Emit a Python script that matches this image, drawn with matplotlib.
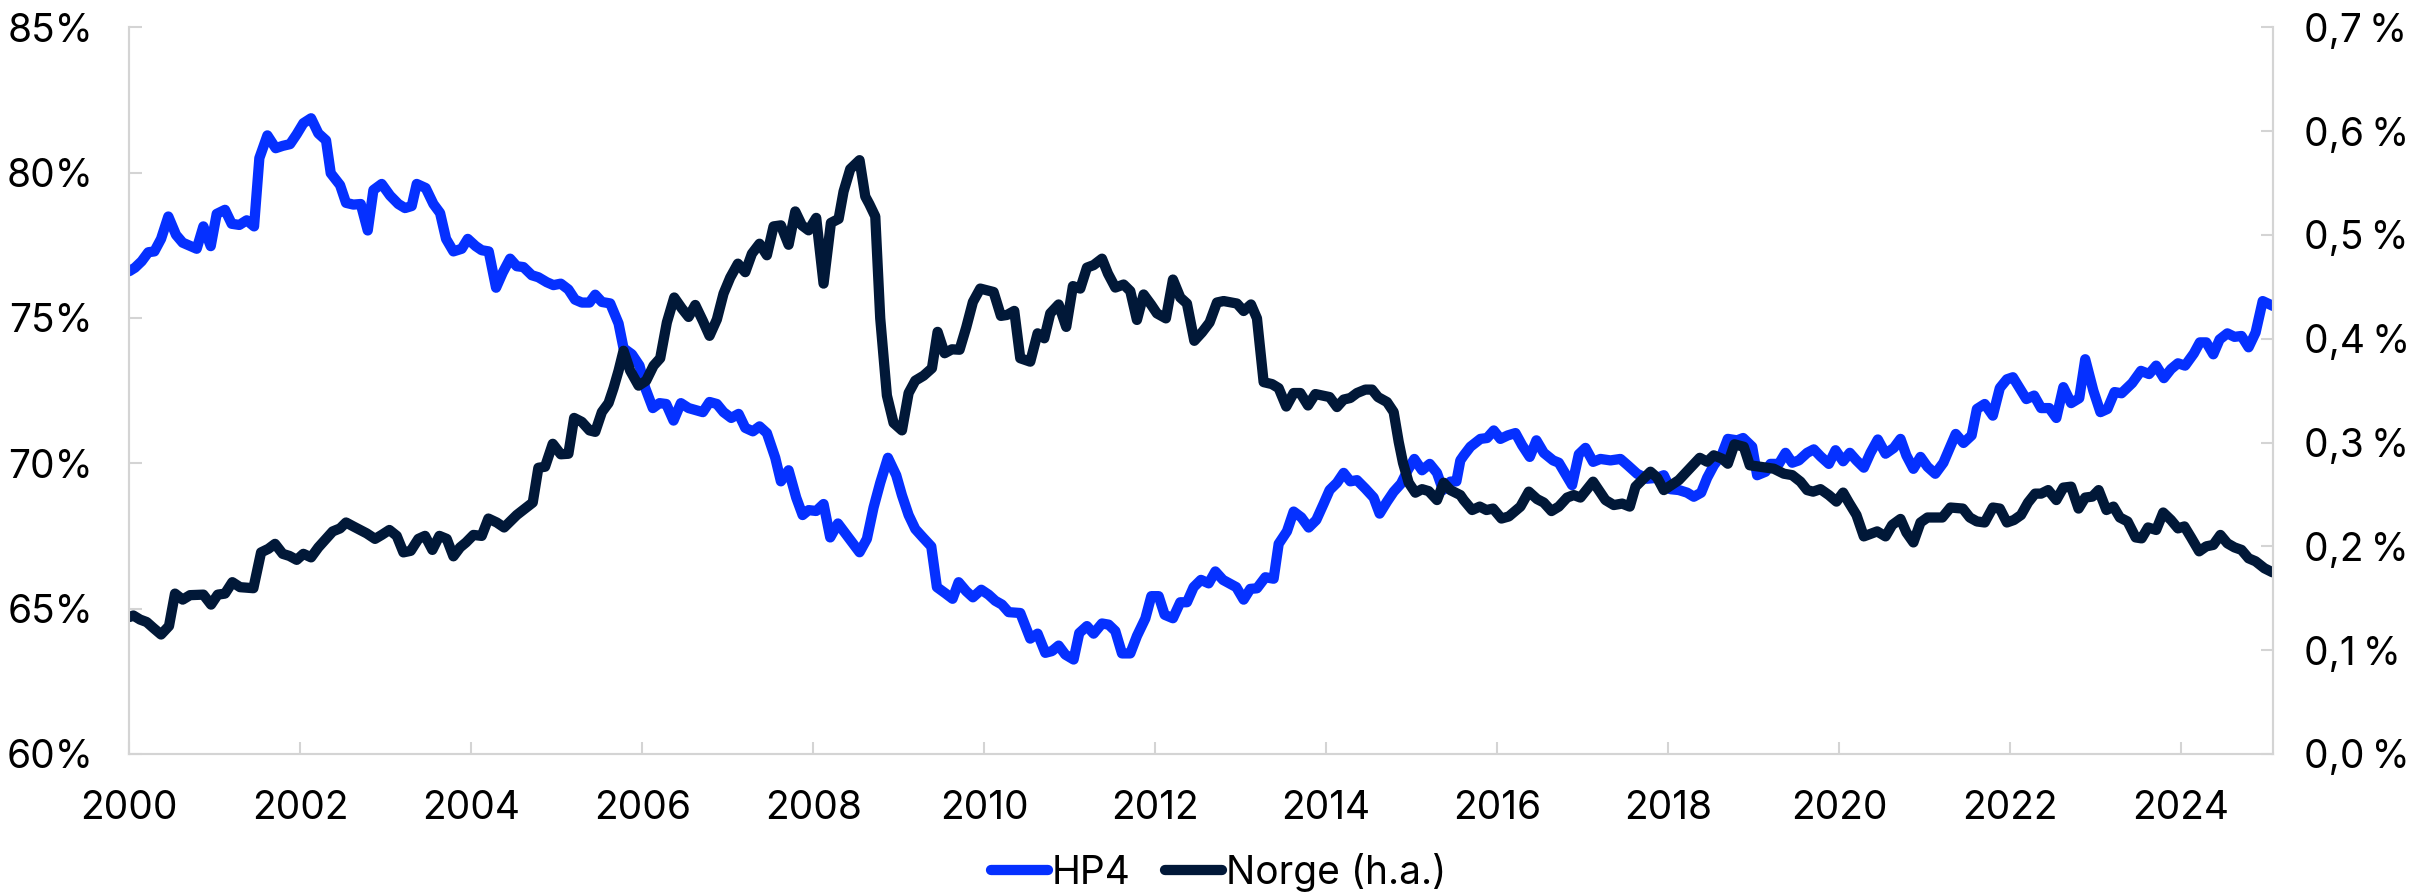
#!/usr/bin/env python3
"""HP4 share (left axis) vs Norge (right axis), 2000-2025."""

import matplotlib

matplotlib.use("Agg")
import matplotlib.pyplot as plt
from matplotlib.ticker import FuncFormatter

plt.rcParams["font.family"] = ["Inter", "DejaVu Sans"]

# HP4, percent (left axis). Dates as decimal years.
hp4_year = [
    2000.000, 2000.066, 2000.144, 2000.222, 2000.293, 2000.371, 2000.456, 2000.546, 2000.624, 2000.788,
    2000.866, 2000.952, 2001.022, 2001.119, 2001.197, 2001.287, 2001.373, 2001.459, 2001.521, 2001.615,
    2001.712, 2001.794, 2001.880, 2001.958, 2002.036, 2002.126, 2002.211, 2002.301, 2002.356, 2002.465,
    2002.535, 2002.621, 2002.707, 2002.789, 2002.855, 2002.952, 2003.050, 2003.147, 2003.225, 2003.303,
    2003.362, 2003.467, 2003.557, 2003.635, 2003.705, 2003.791, 2003.888, 2003.959, 2004.052, 2004.122,
    2004.204, 2004.290, 2004.368, 2004.454, 2004.532, 2004.610, 2004.708, 2004.785, 2004.883, 2004.961,
    2005.047, 2005.136, 2005.214, 2005.293, 2005.383, 2005.450, 2005.528, 2005.625, 2005.723, 2005.781,
    2005.879, 2005.968, 2006.035, 2006.124, 2006.202, 2006.280, 2006.366, 2006.452, 2006.542, 2006.709,
    2006.787, 2006.873, 2006.951, 2007.041, 2007.127, 2007.205, 2007.294, 2007.372, 2007.458, 2007.556,
    2007.622, 2007.712, 2007.801, 2007.876, 2007.946, 2008.035, 2008.121, 2008.199, 2008.289, 2008.542,
    2008.628, 2008.706, 2008.784, 2008.874, 2008.971, 2009.038, 2009.116, 2009.194, 2009.283, 2009.381,
    2009.447, 2009.545, 2009.630, 2009.701, 2009.790, 2009.868, 2009.966, 2010.052, 2010.130, 2010.208,
    2010.286, 2010.422, 2010.539, 2010.625, 2010.715, 2010.793, 2010.871, 2010.949, 2011.046, 2011.112,
    2011.202, 2011.280, 2011.378, 2011.456, 2011.534, 2011.612, 2011.709, 2011.787, 2011.885, 2011.955,
    2012.041, 2012.111, 2012.208, 2012.294, 2012.372, 2012.450, 2012.536, 2012.626, 2012.704, 2012.793,
    2012.949, 2013.035, 2013.113, 2013.191, 2013.289, 2013.386, 2013.445, 2013.542, 2013.620, 2013.710,
    2013.796, 2013.885, 2013.971, 2014.041, 2014.127, 2014.205, 2014.283, 2014.361, 2014.459, 2014.556,
    2014.626, 2014.712, 2014.790, 2014.876, 2014.954, 2015.032, 2015.122, 2015.212, 2015.297, 2015.367,
    2015.453, 2015.524, 2015.570, 2015.610, 2015.688, 2015.805, 2015.883, 2015.961, 2016.039, 2016.125,
    2016.215, 2016.293, 2016.382, 2016.460, 2016.546, 2016.655, 2016.722, 2016.877, 2016.956, 2017.034,
    2017.123, 2017.209, 2017.326, 2017.443, 2017.529, 2017.638, 2017.755, 2017.872, 2017.950, 2018.028,
    2018.126, 2018.223, 2018.301, 2018.387, 2018.457, 2018.535, 2018.633, 2018.699, 2018.808, 2018.878,
    2018.984, 2019.042, 2019.140, 2019.198, 2019.296, 2019.374, 2019.452, 2019.530, 2019.627, 2019.705,
    2019.783, 2019.881, 2019.959, 2020.048, 2020.126, 2020.204, 2020.290, 2020.368, 2020.454, 2020.544,
    2020.641, 2020.719, 2020.788, 2020.870, 2020.953, 2021.035, 2021.126, 2021.221, 2021.365, 2021.456,
    2021.551, 2021.613, 2021.704, 2021.799, 2021.881, 2021.964, 2022.034, 2022.191, 2022.282, 2022.364,
    2022.459, 2022.542, 2022.624, 2022.715, 2022.810, 2022.880, 2022.975, 2023.058, 2023.140, 2023.223,
    2023.305, 2023.429, 2023.532, 2023.627, 2023.710, 2023.800, 2023.883, 2023.965, 2024.048, 2024.151,
    2024.221, 2024.296, 2024.378, 2024.452, 2024.543, 2024.626, 2024.708, 2024.791, 2024.873, 2024.956,
    2025.080,
]
hp4_pct = [
    76.61, 76.73, 76.95, 77.26, 77.29, 77.72, 78.49, 77.86, 77.59, 77.38,
    78.15, 77.47, 78.58, 78.72, 78.24, 78.20, 78.36, 78.15, 80.50, 81.28,
    80.84, 80.92, 80.98, 81.32, 81.70, 81.87, 81.35, 81.11, 79.98, 79.57,
    78.96, 78.90, 78.92, 78.01, 79.40, 79.61, 79.21, 78.92, 78.78, 78.85,
    79.61, 79.47, 78.92, 78.61, 77.72, 77.29, 77.38, 77.72, 77.47, 77.33,
    77.29, 76.04, 76.56, 77.04, 76.78, 76.75, 76.47, 76.40, 76.23, 76.13,
    76.18, 75.98, 75.63, 75.53, 75.53, 75.80, 75.55, 75.50, 74.81, 73.96,
    73.75, 73.36, 72.59, 71.90, 72.07, 72.04, 71.47, 72.07, 71.90, 71.76,
    72.11, 72.04, 71.76, 71.56, 71.70, 71.22, 71.10, 71.27, 71.04, 70.19,
    69.38, 69.76, 68.82, 68.22, 68.39, 68.36, 68.60, 67.45, 67.93, 66.94,
    67.40, 68.48, 69.33, 70.19, 69.59, 68.90, 68.22, 67.74, 67.45, 67.14,
    65.74, 65.53, 65.34, 65.91, 65.60, 65.39, 65.65, 65.48, 65.27, 65.14,
    64.88, 64.85, 63.97, 64.14, 63.48, 63.54, 63.73, 63.42, 63.25, 64.16,
    64.40, 64.14, 64.49, 64.45, 64.23, 63.46, 63.46, 64.06, 64.66, 65.43,
    65.43, 64.79, 64.67, 65.22, 65.22, 65.74, 65.99, 65.87, 66.28, 65.99,
    65.74, 65.31, 65.68, 65.70, 66.08, 66.03, 67.23, 67.66, 68.34, 68.14,
    67.79, 68.05, 68.61, 69.08, 69.33, 69.67, 69.38, 69.42, 69.13, 68.82,
    68.27, 68.68, 69.02, 69.30, 69.76, 70.15, 69.76, 69.98, 69.67, 69.08,
    69.37, 69.38, 70.10, 70.27, 70.57, 70.84, 70.87, 71.13, 70.84, 70.96,
    71.04, 70.62, 70.22, 70.79, 70.36, 70.10, 70.02, 69.25, 70.31, 70.53,
    70.05, 70.15, 70.10, 70.15, 69.93, 69.64, 69.47, 69.50, 69.59, 69.11,
    69.08, 68.99, 68.85, 68.99, 69.50, 69.93, 70.33, 70.84, 70.79, 70.87,
    70.57, 69.59, 69.71, 69.98, 69.98, 70.36, 70.02, 70.10, 70.36, 70.48,
    70.24, 69.98, 70.45, 70.07, 70.36, 70.10, 69.85, 70.36, 70.82, 70.33,
    70.53, 70.84, 70.27, 69.81, 70.22, 69.88, 69.64, 70.02, 71.01, 70.70,
    70.96, 71.87, 72.04, 71.64, 72.59, 72.89, 72.96, 72.21, 72.33, 71.90,
    71.90, 71.56, 72.62, 72.07, 72.24, 73.58, 72.50, 71.76, 71.87, 72.45,
    72.41, 72.76, 73.18, 73.07, 73.36, 72.93, 73.24, 73.44, 73.36, 73.78,
    74.16, 74.16, 73.75, 74.26, 74.47, 74.35, 74.38, 73.99, 74.50, 75.58,
    75.41,
]

# Norge, percent (right axis, "h.a.")
norge_year = [
    2000.000, 2000.047, 2000.125, 2000.203, 2000.281, 2000.371, 2000.464, 2000.534, 2000.624, 2000.710,
    2000.866, 2000.956, 2001.034, 2001.119, 2001.205, 2001.295, 2001.451, 2001.541, 2001.626, 2001.704,
    2001.794, 2001.872, 2001.958, 2002.036, 2002.126, 2002.211, 2002.289, 2002.379, 2002.465, 2002.535,
    2002.621, 2002.777, 2002.874, 2002.952, 2003.042, 2003.128, 2003.206, 2003.292, 2003.381, 2003.459,
    2003.545, 2003.627, 2003.713, 2003.791, 2003.869, 2003.939, 2004.025, 2004.122, 2004.200, 2004.298,
    2004.384, 2004.532, 2004.719, 2004.785, 2004.863, 2004.953, 2005.047, 2005.136, 2005.203, 2005.293,
    2005.383, 2005.450, 2005.528, 2005.606, 2005.664, 2005.723, 2005.781, 2005.859, 2005.957, 2006.046,
    2006.132, 2006.210, 2006.288, 2006.374, 2006.464, 2006.542, 2006.620, 2006.709, 2006.787, 2006.873,
    2006.951, 2007.029, 2007.119, 2007.205, 2007.283, 2007.372, 2007.458, 2007.536, 2007.622, 2007.712,
    2007.790, 2007.868, 2007.946, 2008.035, 2008.121, 2008.207, 2008.297, 2008.355, 2008.433, 2008.542,
    2008.609, 2008.656, 2008.726, 2008.784, 2008.862, 2008.940, 2009.038, 2009.116, 2009.194, 2009.291,
    2009.389, 2009.455, 2009.537, 2009.623, 2009.712, 2009.790, 2009.868, 2009.954, 2010.110, 2010.196,
    2010.267, 2010.352, 2010.422, 2010.539, 2010.625, 2010.703, 2010.773, 2010.871, 2010.960, 2011.038,
    2011.124, 2011.202, 2011.280, 2011.378, 2011.448, 2011.534, 2011.631, 2011.709, 2011.787, 2011.865,
    2011.951, 2012.021, 2012.126, 2012.208, 2012.294, 2012.372, 2012.458, 2012.548, 2012.637, 2012.723,
    2012.801, 2012.957, 2013.035, 2013.121, 2013.191, 2013.269, 2013.367, 2013.445, 2013.534, 2013.620,
    2013.698, 2013.788, 2013.874, 2013.952, 2014.041, 2014.127, 2014.205, 2014.283, 2014.361, 2014.459,
    2014.537, 2014.607, 2014.712, 2014.790, 2014.849, 2014.899, 2014.966, 2015.044, 2015.122, 2015.200,
    2015.297, 2015.375, 2015.453, 2015.570, 2015.610, 2015.708, 2015.797, 2015.875, 2015.953, 2016.051,
    2016.137, 2016.273, 2016.371, 2016.468, 2016.546, 2016.636, 2016.722, 2016.819, 2016.897, 2016.975,
    2017.123, 2017.268, 2017.365, 2017.463, 2017.552, 2017.619, 2017.794, 2017.872, 2017.950, 2018.126,
    2018.371, 2018.457, 2018.535, 2018.633, 2018.699, 2018.777, 2018.886, 2018.956, 2019.237, 2019.354,
    2019.452, 2019.549, 2019.627, 2019.697, 2019.783, 2019.881, 2019.970, 2020.048, 2020.115, 2020.204,
    2020.290, 2020.446, 2020.544, 2020.622, 2020.719, 2020.788, 2020.870, 2020.953, 2021.035, 2021.208,
    2021.303, 2021.448, 2021.530, 2021.613, 2021.704, 2021.799, 2021.881, 2021.964, 2022.046, 2022.129,
    2022.211, 2022.294, 2022.364, 2022.447, 2022.542, 2022.624, 2022.715, 2022.802, 2022.880, 2022.963,
    2023.037, 2023.128, 2023.210, 2023.285, 2023.375, 2023.470, 2023.540, 2023.615, 2023.710, 2023.792,
    2023.883, 2023.965, 2024.040, 2024.118, 2024.213, 2024.296, 2024.378, 2024.461, 2024.543, 2024.626,
    2024.708, 2024.791, 2024.873, 2024.976, 2025.071,
]
norge_pct = [
    0.1319, 0.1334, 0.1295, 0.1271, 0.1214, 0.1151, 0.1233, 0.1545, 0.1487, 0.1530,
    0.1535, 0.1439, 0.1535, 0.1545, 0.1655, 0.1607, 0.1597, 0.1942, 0.1976, 0.2024,
    0.1928, 0.1908, 0.1870, 0.1928, 0.1894, 0.1990, 0.2062, 0.2144, 0.2173, 0.2230,
    0.2192, 0.2125, 0.2072, 0.2110, 0.2158, 0.2101, 0.1942, 0.1957, 0.2072, 0.2101,
    0.1966, 0.2101, 0.2072, 0.1904, 0.1990, 0.2038, 0.2110, 0.2101, 0.2268, 0.2230,
    0.2182, 0.2302, 0.2422, 0.2757, 0.2767, 0.2988, 0.2887, 0.2892, 0.3237, 0.3199,
    0.3117, 0.3103, 0.3294, 0.3381, 0.3524, 0.3692, 0.3884, 0.3692, 0.3548, 0.3596,
    0.3740, 0.3812, 0.4157, 0.4397, 0.4291, 0.4210, 0.4325, 0.4172, 0.4028, 0.4186,
    0.4435, 0.4589, 0.4723, 0.4641, 0.4819, 0.4915, 0.4804, 0.5082, 0.5092, 0.4905,
    0.5226, 0.5092, 0.5044, 0.5164, 0.4531, 0.5116, 0.5154, 0.5418, 0.5634, 0.5720,
    0.5370, 0.5298, 0.5178, 0.4196, 0.3453, 0.3189, 0.3117, 0.3477, 0.3596, 0.3644,
    0.3716, 0.4066, 0.3860, 0.3898, 0.3894, 0.4109, 0.4354, 0.4483, 0.4450, 0.4220,
    0.4229, 0.4268, 0.3812, 0.3779, 0.4052, 0.4004, 0.4244, 0.4330, 0.4114, 0.4507,
    0.4483, 0.4685, 0.4709, 0.4771, 0.4627, 0.4493, 0.4522, 0.4459, 0.4181, 0.4426,
    0.4330, 0.4244, 0.4196, 0.4570, 0.4397, 0.4339, 0.3980, 0.4061, 0.4157, 0.4349,
    0.4363, 0.4339, 0.4267, 0.4330, 0.4196, 0.3582, 0.3563, 0.3524, 0.3347, 0.3477,
    0.3477, 0.3357, 0.3467, 0.3453, 0.3438, 0.3342, 0.3414, 0.3429, 0.3477, 0.3510,
    0.3510, 0.3438, 0.3390, 0.3294, 0.3007, 0.2805, 0.2613, 0.2517, 0.2551, 0.2532,
    0.2446, 0.2613, 0.2542, 0.2494, 0.2446, 0.2350, 0.2383, 0.2350, 0.2364, 0.2268,
    0.2288, 0.2383, 0.2527, 0.2455, 0.2422, 0.2340, 0.2383, 0.2470, 0.2494, 0.2470,
    0.2623, 0.2446, 0.2398, 0.2412, 0.2383, 0.2575, 0.2719, 0.2662, 0.2542, 0.2638,
    0.2853, 0.2815, 0.2877, 0.2844, 0.2796, 0.2983, 0.2959, 0.2781, 0.2748, 0.2700,
    0.2686, 0.2623, 0.2542, 0.2527, 0.2551, 0.2494, 0.2431, 0.2518, 0.2422, 0.2302,
    0.2096, 0.2144, 0.2096, 0.2206, 0.2264, 0.2134, 0.2038, 0.2230, 0.2278, 0.2278,
    0.2374, 0.2364, 0.2278, 0.2240, 0.2230, 0.2374, 0.2364, 0.2230, 0.2254, 0.2302,
    0.2422, 0.2508, 0.2508, 0.2542, 0.2446, 0.2566, 0.2575, 0.2364, 0.2470, 0.2479,
    0.2542, 0.2350, 0.2383, 0.2278, 0.2240, 0.2086, 0.2077, 0.2182, 0.2158, 0.2326,
    0.2254, 0.2173, 0.2192, 0.2086, 0.1952, 0.2000, 0.2014, 0.2110, 0.2029, 0.1990,
    0.1966, 0.1885, 0.1856, 0.1789, 0.1750,
]

year_ticks = list(range(2000, 2025, 2))
left_ticks = [60, 65, 70, 75, 80, 85]
right_ticks = [0.0, 0.1, 0.2, 0.3, 0.4, 0.5, 0.6, 0.7]

BLUE = "#0530FF"
NAVY = "#011838"
GRID = "#d4d4d4"
FS = 28

fig = plt.figure(figsize=(24.13, 8.94), dpi=100)
ax = fig.add_axes([0.0536, 0.1566, 0.8885, 0.8129])
ax2 = ax.twinx()

line_kw = dict(lw=7.4, solid_joinstyle="round", solid_capstyle="round")
h1, = ax.plot(hp4_year, hp4_pct, color=BLUE, label="HP4", **line_kw)
h2, = ax2.plot(norge_year, norge_pct, color=NAVY, label="Norge (h.a.)", **line_kw)

ax.set_xlim(2000, 2025.08)
ax.set_ylim(60, 85)
ax2.set_ylim(0, 0.7)
ax.set_xticks(year_ticks)
ax.set_yticks(left_ticks)
ax2.set_yticks(right_ticks)
ax.yaxis.set_major_formatter(FuncFormatter(lambda v, _: f"{v:.0f}%"))
# thin space before the percent sign on the right axis
ax2.yaxis.set_major_formatter(FuncFormatter(lambda v, _: f"{v:.1f}\u2009%".replace(".", ",")))

for a in (ax, ax2):
    a.spines["top"].set_visible(False)
    for side in ("left", "right", "bottom"):
        a.spines[side].set_color(GRID)
        a.spines[side].set_linewidth(1.5)
    a.tick_params(direction="in", length=9, width=1.5, color=GRID, labelsize=FS, pad=26)

ax.tick_params(axis="x", pad=26)
ax2.tick_params(axis="y", pad=22)

fig.legend(handles=[h1, h2], loc="center", bbox_to_anchor=(0.505, 0.024), ncol=2, frameon=False,
           fontsize=FS, handlelength=1.45, handletextpad=0.1, columnspacing=0.9)

fig.savefig("out.png", dpi=100)
